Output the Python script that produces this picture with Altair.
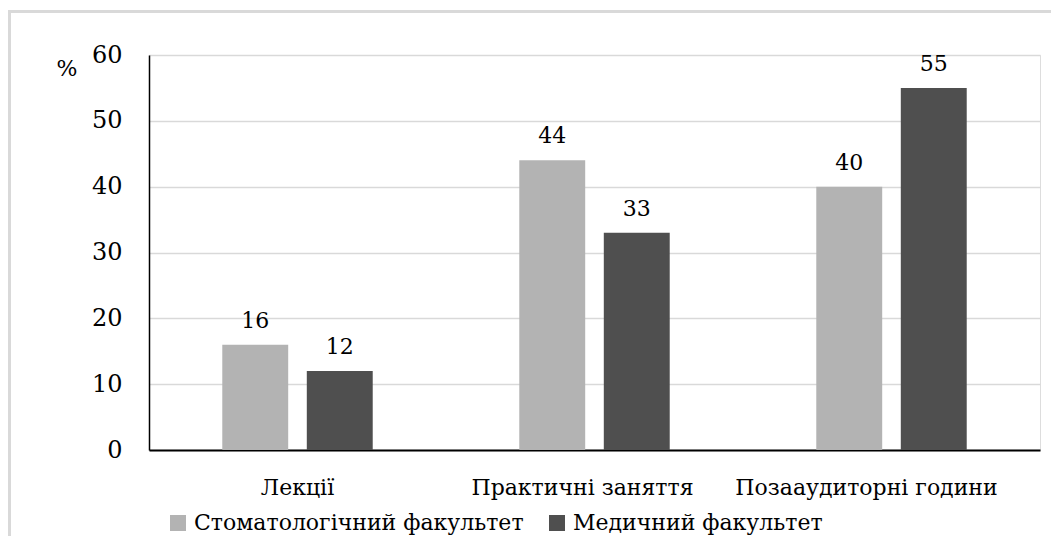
import altair as alt
import pandas as pd

categories = ["Лекції", "Практичні заняття", "Позааудиторні  години"]
series = ["Стоматологічний факультет", "Медичний  факультет"]
stomat = [16, 44, 40]
medych = [12, 33, 55]
colors = ["#b3b3b3", "#4f4f4f"]

rows = []
for i, c in enumerate(categories):
    rows.append({"cat": c, "series": series[0], "value": stomat[i]})
    rows.append({"cat": c, "series": series[1], "value": medych[i]})
df = pd.DataFrame(rows)

FONT = "DejaVu Serif"

label_offset = {
    "condition": [
        {"test": "datum.value === '%s'" % categories[1], "value": -12},
        {"test": "datum.value === '%s'" % categories[2], "value": -25},
    ],
    "value": 0,
}

x = alt.X("cat:N", sort=categories, title=None,
          scale=alt.Scale(paddingInner=0, paddingOuter=0),
          axis=alt.Axis(labelAngle=0, labelFont=FONT, labelFontSize=22, labelColor="#000000",
                        labelPadding=27, ticks=False, domainColor="#000000", domainWidth=2,
                        grid=False, labelLimit=600, labelOffset=label_offset))
xo = alt.XOffset("series:N", sort=series,
                 scale=alt.Scale(paddingInner=0.22, paddingOuter=0.867))
y = alt.Y("value:Q", title=None,
          scale=alt.Scale(domain=[0, 60]),
          axis=alt.Axis(values=[0, 10, 20, 30, 40, 50, 60], labelFont=FONT, labelFontSize=24,
                        labelColor="#000000", labelPadding=27, ticks=False,
                        domainColor="#000000", domainWidth=1.5,
                        gridColor="#d9d9d9", gridWidth=1.5))

base = alt.Chart(df)

bars = base.mark_bar().encode(
    x=x, xOffset=xo, y=y,
    color=alt.Color("series:N", sort=series,
                    scale=alt.Scale(domain=series, range=colors),
                    legend=alt.Legend(title=None, orient="none", direction="horizontal",
                                      legendX=18, legendY=457,
                                      symbolType="square", symbolSize=256,
                                      symbolStrokeWidth=0,
                                      labelFont=FONT, labelFontSize=22, labelColor="#000000",
                                      columnPadding=22, labelOffset=5, labelLimit=600)),
)

labels = base.mark_text(font=FONT, fontSize=22, color="#000000",
                        baseline="alphabetic", dy=-17).encode(
    x=x, xOffset=xo, y=y, text=alt.Text("value:Q")
)

pct = alt.Chart(pd.DataFrame({"t": ["%"]})).mark_text(
    font=FONT, fontSize=22, color="#000000", align="center", baseline="middle"
).encode(x=alt.value(-82), y=alt.value(14), text="t:N")

border_top = alt.Chart(pd.DataFrame({"a": [0]})).mark_rule(
    color="#d9d9d9", strokeWidth=3
).encode(x=alt.value(-140), x2=alt.value(1000), y=alt.value(-43.5))
border_left = alt.Chart(pd.DataFrame({"a": [0]})).mark_rule(
    color="#d9d9d9", strokeWidth=3
).encode(x=alt.value(-139.5), y=alt.value(-45), y2=alt.value(600))

chart = alt.layer(border_top, border_left, bars, labels, pct).properties(
    width=891, height=395,
    autosize=alt.AutoSizeParams(type="none"),
    padding={"left": 141, "top": 47, "right": 11, "bottom": 86},
).configure_view(stroke=None).configure(background="#ffffff", font=FONT)

chart.save("out.html", embed_options={"renderer": "svg", "actions": False})
